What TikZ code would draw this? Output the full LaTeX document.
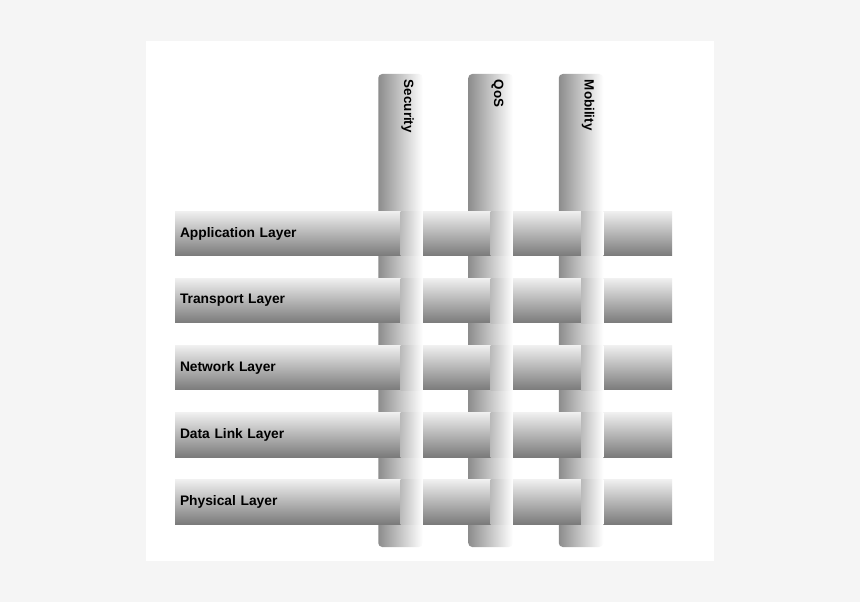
\documentclass[tikz,border=0pt]{standalone}
\usepackage{fontspec}
\setmainfont{Liberation Sans}
\usetikzlibrary{positioning}
\pgfdeclarelayer{background}
\pgfdeclarelayer{foreground}
\pgfsetlayers{background,main,foreground}
\definecolor{pagegray}{HTML}{F5F5F5}
\tikzstyle{layer}=[rectangle,minimum width=497pt,minimum height=44.5pt,inner xsep=5pt,inner ysep=0pt,text width=487pt,align=left,top color=black!6,bottom color=black!52,font=\bfseries\fontsize{13.8}{15}\selectfont]
\tikzstyle{service}=[rectangle,rounded corners=4pt,minimum width=44.5pt,minimum height=473pt,left color=black!45,right color=white]
\tikzstyle{service label}=[rotate=-90,anchor=west,inner sep=0pt,font=\bfseries\fontsize{13.4}{15}\selectfont]
\tikzstyle{overlap} = [left color=black!27,right color=white]

\begin{document}
\begin{tikzpicture}[x=1pt,y=-1pt]
    \useasboundingbox (0,0) rectangle (860,602);
    \begin{pgfonlayer}{background}
        \fill[pagegray] (0,0) rectangle (860,602);
        \fill[white] (146,41) rectangle (714,561);
        \foreach \pos/\name in {{(400.5,310.5)/sec}, {(490.5,310.5)/qos}, {(581,310.5)/mob}}
            \node[service] (\name) at \pos {};
    \end{pgfonlayer}
    \foreach \name/\text in {sec/Security, qos/QoS, mob/Mobility}
        \node[service label] (\name label) at ([xshift=7pt,yshift=-6pt]\name.north) {\text};

    \foreach \pos/\name/\text in {{(423.5,233.5)/app/Application Layer}, {(423.5,300.6)/trans/Transport Layer},
                                  {(423.5,367.7)/net/Network Layer}, {(423.5,434.8)/link/Data Link Layer},
                                  {(423.5,501.9)/phys/Physical Layer}}
        \node[layer] (\name) at \pos {\text};

    \begin{pgfonlayer}{foreground}
        \foreach \v in {sec, qos, mob}
            \foreach \h in {app, trans, net, link, phys}
                \path[overlap] (\v.center |- \h.north) rectangle (\v.east |- \h.south);
    \end{pgfonlayer}
\end{tikzpicture}
\end{document}
